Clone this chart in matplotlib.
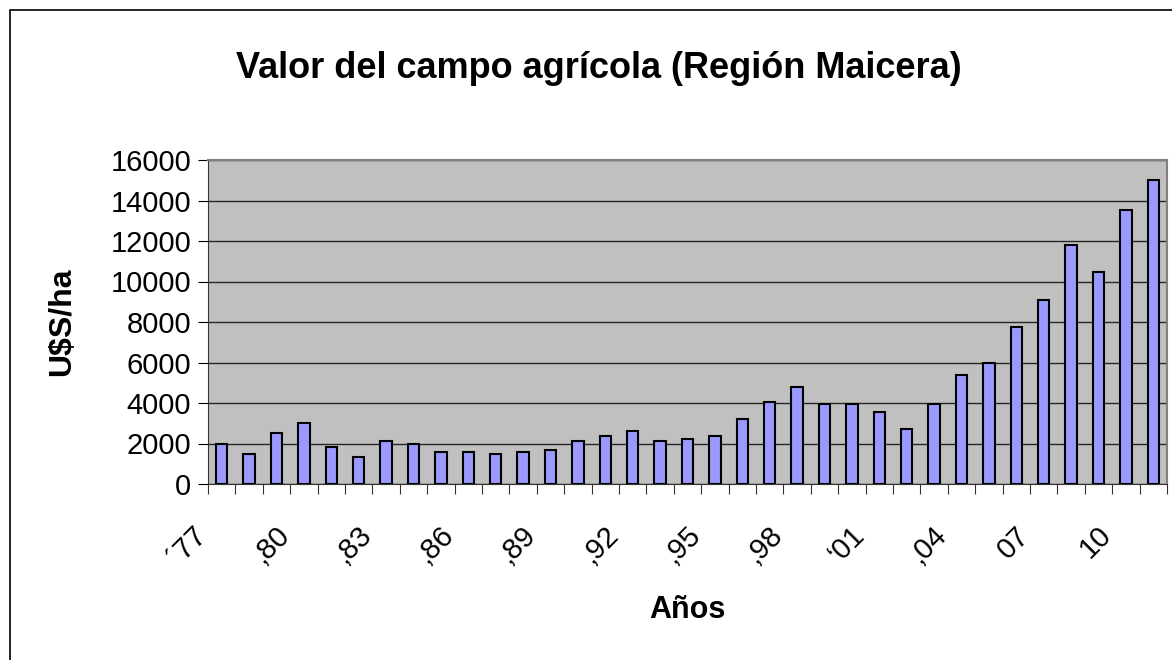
import matplotlib
matplotlib.use("Agg")
import matplotlib.pyplot as plt
import numpy as np

plt.rcParams['font.family'] = ['Liberation Sans', 'DejaVu Sans']

years = list(range(1977, 2012))
values = [2000, 1500, 2500, 3000, 1850, 1350, 2100, 2000, 1600, 1600,
          1500, 1600, 1700, 2100, 2350, 2600, 2100, 2200, 2350, 3200,
          4050, 4800, 3950, 3950, 3550, 2700, 3950, 5400, 6000, 7750,
          9100, 11800, 10450, 13550, 15000]
tick_labels = ["\u00b477", "\u201a80", "\u201a83", "\u201a86", "\u201a89", "\u201a92",
               "\u201a95", "\u201a98", "\u201801", "\u201a04", "07", "10"]

fig = plt.figure(figsize=(11.72, 6.6), dpi=100)
# outer chart border (only left/top visible in reference)
fig.patches.append(plt.Rectangle((10 / 1172, -0.1), 1.2, 1 - 10 / 660 + 0.1,
                                 transform=fig.transFigure, fill=False,
                                 edgecolor='black', linewidth=1.2))

ax = fig.add_axes([208 / 1172, 1 - 484 / 660, (1167 - 208) / 1172, (484 - 160) / 660])
ax.set_facecolor('#C0C0C0')

x = np.arange(len(years))
ax.bar(x, values, width=0.42, color='#9999FF', edgecolor='black', linewidth=1.5, zorder=3)

ax.set_yticks(range(0, 16001, 2000))
ax.yaxis.grid(True, color='black', linewidth=1, alpha=0.8, zorder=1)
ax.set_axisbelow(True)

# category ticks between bars
ax.set_xticks(np.arange(-0.5, len(years), 1.0))
ax.set_xticklabels([])
ax.tick_params(axis='x', length=7, direction='out', color='#333333')
ax.tick_params(axis='y', length=7, labelsize=21, direction='out', pad=5)
ax.set_xlim(-0.5, len(years) - 0.5)
ax.set_ylim(0, 16000)

# rotated labels every 3 years, end anchored a bit left of the category (Excel style)
for xi, lab in zip(x[::3], tick_labels):
    ax.annotate(lab, xy=(xi, 0), xycoords=ax.get_xaxis_transform(),
                xytext=(-19, -47), textcoords='offset pixels',
                rotation=45, rotation_mode='anchor', ha='right', va='center',
                fontsize=21, annotation_clip=False)

for side in ['top', 'right']:
    ax.spines[side].set_color('#808080')
    ax.spines[side].set_linewidth(1.5)
ax.spines['left'].set_color('#333333')
ax.spines['bottom'].set_color('#333333')

ax.set_ylabel('U$S/ha', fontsize=23, fontweight='bold')
ax.yaxis.set_label_coords((62 - 208) / (1167 - 208), 0.5)
ax.set_xlabel('Años', fontsize=22, fontweight='bold')
ax.xaxis.set_label_coords(0.5, -(610 - 484) / (484 - 160))
ax.xaxis.label.set_va('center')
ax.yaxis.label.set_va('center')

fig.text(599 / 1172, 1 - 68 / 660, 'Valor del campo agrícola (Región Maicera)',
         ha='center', va='center', fontsize=26, fontweight='bold')

fig.savefig('out.png', dpi=100)
